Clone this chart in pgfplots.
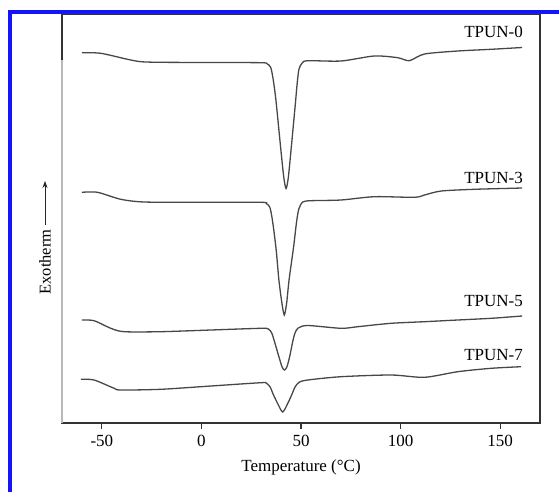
\documentclass[border=0pt]{standalone}
\usepackage{pgfplots}
\pgfplotsset{compat=1.18}
\usetikzlibrary{arrows.meta}
\usepackage{fontspec}
\setmainfont{Liberation Serif}
\pgfplotsset{dsc/.style={color=black!72, line width=1.3pt, smooth, tension=0.45, mark=none}}
\newcommand\fs{\fontsize{17}{20}\selectfont}
\begin{document}
\begin{tikzpicture}
\useasboundingbox (0pt,0pt) rectangle (559pt,491pt);
\draw[color={rgb,255:red,20;green,20;blue,250}, line width=3.5pt] (10pt,-10pt) -- (10pt,479pt) -- (570pt,479pt);
\begin{axis}[
  at={(62pt,68pt)}, anchor=south west, scale only axis,
  width=478pt, height=409pt,
  xmin=-70, xmax=170, ymin=0, ymax=409,
  xtick={-50,0,50,100,150}, ytick=\empty,
  xtick pos=bottom, tick align=outside, major tick length=6pt,
  axis line style={black!80, line width=1.2pt},
  tick style={black!80, line width=1.2pt},
  ticklabel style={font=\fs},
  xticklabel style={yshift=-3pt},
  /pgf/number format/assume math mode=true,
  xlabel={Temperature (°C)},
  xlabel style={font=\fs, yshift=-6pt},
  clip=false,
]
% TPUN-0
\addplot[dsc] coordinates {
(-60,370.3) (-50.5,369.7) (-37.1,363.7) (-30.4,361.3) (-20.4,360.7) (4.8,360.5) (29.9,360.3)
(33.0,359.2) (34.8,355.5) (36.0,344) (37.4,323) (39.9,273) (41.4,245) (42.5,234.5) (43.6,245)
(45.0,273) (47.2,320) (48.1,340) (49.0,354) (50.6,360) (53.4,362.3) (70.1,362) (86.8,367)
(98.6,365.3) (104.4,362.3) (112.0,369) (128.7,372) (145.5,373.7) (161,375.5)};
% TPUN-3
\addplot[dsc] coordinates {
(-60,230.7) (-52.2,230.7) (-40.5,223.7) (-28.8,221) (-3.6,220.7) (29.9,220.7) (32.6,219.4)
(34.3,216) (35.4,206) (36.4,192) (37.6,172) (38.9,143) (40.4,120) (41.6,108) (42.8,120) (44.0,143)
(46.3,176.3) (47.7,200) (48.9,214) (50.9,221) (55.0,222.3) (70.1,223) (86.8,226.3)
(106.9,225.7) (112.0,228) (120.4,232) (137.1,233.7) (155.5,234.7) (161,235)};
% TPUN-5
\addplot[dsc] coordinates {
(-60,103) (-53.9,102.3) (-45.5,94.7) (-38.8,91.3) (-20.4,91.3) (4.8,93) (29.9,94.7)
(33.6,94) (35.3,90) (36.6,82) (38.9,66.3) (40.5,56) (41.7,53) (42.9,56) (44.3,66.3)
(45.9,82) (47.0,90) (48.6,95) (53.4,97.5) (70.1,94.7) (78.5,96.3) (95.2,99.7) (112.0,101.3)
(128.7,103) (145.5,104.7) (161,107)};
% TPUN-7
\addplot[dsc] coordinates {
(-60.5,43.7) (-53.9,43) (-43.8,34.7) (-40.5,33) (-20.4,33.7) (4.8,37) (29.9,40.3)
(32.6,39.8) (34.5,36) (36.2,28) (38.4,19) (40.8,11) (43.2,19) (45.3,28)
(47.0,36) (49.1,40.8) (53.4,43) (70.1,46.3) (95.2,48) (112.0,45.7) (128.7,51.3)
(145.5,54.7) (160.5,56.3)};
\node[anchor=east, inner sep=0pt, font=\fs] at (axis cs:161.5,391) {TPUN-0};
\node[anchor=east, inner sep=0pt, font=\fs] at (axis cs:161.5,245) {TPUN-3};
\node[anchor=east, inner sep=0pt, font=\fs] at (axis cs:161.5,122) {TPUN-5};
\node[anchor=east, inner sep=0pt, font=\fs] at (axis cs:161.5,68) {TPUN-7};
\end{axis}
\draw[gray!55, line width=1.3pt] (62pt,68pt) -- (62pt,431pt);
\node[rotate=90, inner sep=0pt, font=\fontsize{16.5}{19}\selectfont] at (45pt,229pt) {Exotherm};
\draw[-{Stealth[length=7pt,width=5pt]}, line width=0.8pt, black!85] (45pt,266pt) -- (45pt,310pt);
\end{tikzpicture}
\end{document}
